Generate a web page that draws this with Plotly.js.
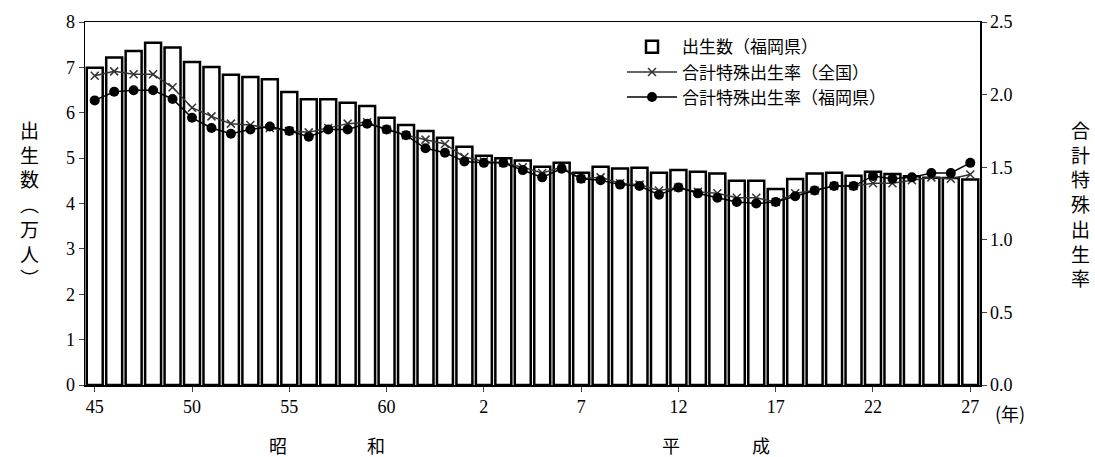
<!DOCTYPE html>
<html><head><meta charset="utf-8">
<script src="https://cdn.plot.ly/plotly-3.0.1.min.js"></script>
<style>body{margin:0;background:#fff}</style>
</head><body><div id="myDiv" style="width:1095px;height:457px"></div>
<script>
const graphDiv = document.getElementById('myDiv')
// 昭和45年(1970) .. 平成27年(2015)
const yearIdx = Array.from({length:46},(_,i)=>i)
const tickPos = [0,5,10,15,20,25,30,35,40,45]
const tickText = ['45','50','55','60','2','7','12','17','22','27']
const births = [6.99,7.22,7.36,7.54,7.44,7.12,7.01,6.84,6.79,6.74,6.46,6.30,6.30,6.22,6.15,5.89,5.73,5.60,5.45,5.25,5.05,5.00,4.95,
  4.81,4.90,4.68,4.81,4.77,4.79,4.68,4.74,4.70,4.66,4.50,4.50,4.32,4.54,4.66,4.68,4.61,4.70,4.65,4.60,4.57,4.56,4.53]
const tfrJapan = [2.13,2.16,2.14,2.14,2.05,1.91,1.85,1.80,1.79,1.77,1.75,1.74,1.77,1.80,1.81,1.76,1.72,1.69,1.66,1.57,1.54,1.53,1.50,
  1.46,1.50,1.42,1.43,1.39,1.38,1.34,1.36,1.33,1.32,1.29,1.29,1.26,1.32,1.34,1.37,1.37,1.39,1.39,1.41,1.43,1.42,1.45]
const tfrFukuoka = [1.96,2.02,2.03,2.03,1.97,1.84,1.77,1.73,1.76,1.78,1.75,1.71,1.76,1.76,1.80,1.76,1.72,1.63,1.60,1.54,1.53,1.53,1.48,
  1.43,1.49,1.42,1.41,1.38,1.37,1.31,1.36,1.32,1.29,1.26,1.25,1.26,1.30,1.34,1.37,1.37,1.44,1.42,1.43,1.46,1.46,1.53]

const jp = '"Noto Sans CJK JP", sans-serif'
const num = '"Liberation Serif", serif'

const bars = {x:yearIdx, y:births, type:'bar', name:'出生数（福岡県）', width:0.82,
  marker:{color:'white', line:{color:'black', width:2.5}}, hoverinfo:'none'}
const national = {x:yearIdx, y:tfrJapan, yaxis:'y2', type:'scatter', mode:'lines+markers', name:'合計特殊出生率（全国）',
  line:{color:'#333', width:1.5}, marker:{symbol:'x-thin', size:8, line:{color:'#333', width:1.5}}, hoverinfo:'none'}
const fukuoka = {x:yearIdx, y:tfrFukuoka, yaxis:'y2', type:'scatter', mode:'lines+markers', name:'合計特殊出生率（福岡県）',
  line:{color:'black', width:1.5}, marker:{symbol:'circle', size:10, color:'black'}, hoverinfo:'none'}

const vert = s => s.split('').join('<br>')
const era = (t, x) => ({text:t, xref:'paper', yref:'paper', x:x, y:-0.165, yanchor:'middle', showarrow:false,
  font:{family:jp, size:18, color:'black'}})
const layout = {
  width:1095, height:457,
  margin:{l:85, r:115, t:22, b:72},
  paper_bgcolor:'white', plot_bgcolor:'white',
  showlegend:true,
  legend:{x:0.6, y:0.98, xanchor:'left', yanchor:'top', bgcolor:'rgba(255,255,255,0)',
    font:{family:jp, size:17, color:'black'}, tracegroupgap:0, itemwidth:50},
  bargap:0.1,
  xaxis:{range:[-0.5,45.5], tickvals:tickPos, ticktext:tickText, ticks:'outside', ticklen:5,
    showline:true, linecolor:'black', linewidth:1.5, mirror:true, showgrid:false, zeroline:false,
    tickfont:{family:num, size:18, color:'black'}},
  yaxis:{range:[0,8], dtick:1, ticks:'outside', ticklen:5, showline:true, linecolor:'black', linewidth:1.5,
    showgrid:false, zeroline:false, tickfont:{family:num, size:18, color:'black'}},
  yaxis2:{range:[0,2.5], dtick:0.5, tickformat:'.1f', overlaying:'y', side:'right', ticks:'outside', ticklen:5,
    showline:true, linecolor:'black', linewidth:1.5, showgrid:false, zeroline:false,
    tickfont:{family:num, size:18, color:'black'}},
  annotations:[
    {text:vert('出生数︵万人︶'), xref:'paper', yref:'paper', x:-0.075, y:0.5, showarrow:false, font:{family:jp, size:19, color:'black'}},
    {text:vert('合計特殊出生率'), xref:'paper', yref:'paper', x:1.125, y:0.5, showarrow:false, font:{family:jp, size:19, color:'black'}},
    {text:'(年)', xref:'paper', yref:'paper', x:1.015, y:-0.035, xanchor:'left', yanchor:'top', showarrow:false, font:{family:jp, size:18, color:'black'}},
    era('昭', 0.203), era('和', 0.313), era('平', 0.655), era('成', 0.768)
  ]
}
Plotly.newPlot(graphDiv, [bars, national, fukuoka], layout, {displayModeBar:false, staticPlot:true})
</script></body></html>
